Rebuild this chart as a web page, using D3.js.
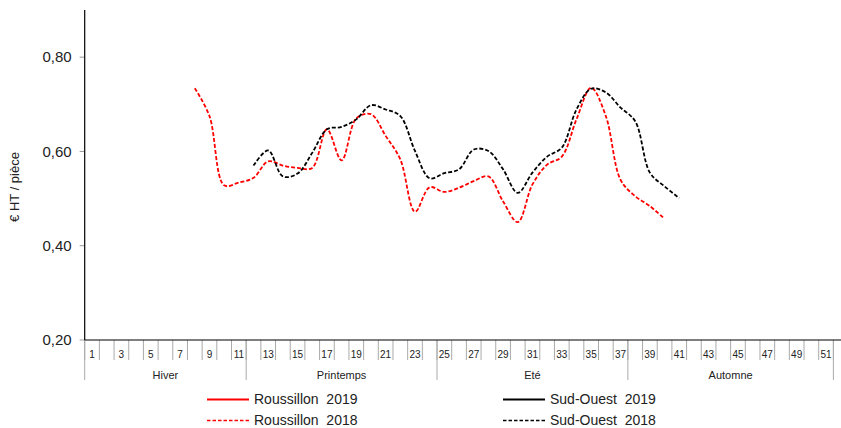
<!DOCTYPE html>
<html>
<head>
<meta charset="utf-8">
<script src="https://cdn.jsdelivr.net/npm/d3@7"></script>
<style>
  body { margin: 0; background: #fff; }
  svg { display: block; font-family: "Liberation Sans", Arial, sans-serif; }
</style>
</head>
<body>
<div id="chart"></div>
<script>
// weeks 1..52 on the category axis
var weeks = d3.range(1, 53);
var seasons = ["Hiver", "Printemps", "Eté", "Automne"];
var seasonStart = [1, 12, 25, 38];
var seasonEnd = [11, 24, 37, 51];
var yTicks = [0.20, 0.40, 0.60, 0.80];

// Roussillon 2018 (weeks 8..40)
var roussillon2018Weeks = d3.range(8, 41);
var roussillon2018 = [0.734, 0.675, 0.528, 0.534, 0.544, 0.579, 0.570, 0.565, 0.565, 0.647,
  0.581, 0.670, 0.679, 0.633, 0.583, 0.472, 0.524, 0.514, 0.523, 0.537, 0.547, 0.494, 0.450,
  0.530, 0.572, 0.589, 0.668, 0.735, 0.675, 0.540, 0.505, 0.484, 0.457];

// Sud-Ouest 2018 (weeks 12..41)
var sudOuest2018Weeks = d3.range(12, 42);
var sudOuest2018 = [0.570, 0.602, 0.547, 0.553, 0.597, 0.647, 0.652, 0.668, 0.698, 0.689,
  0.675, 0.601, 0.543, 0.554, 0.562, 0.604, 0.601, 0.562, 0.512, 0.555, 0.589, 0.608, 0.689,
  0.733, 0.725, 0.693, 0.664, 0.555, 0.526, 0.501];

// 2019 series have no values on this chart
var roussillon2019 = [];
var sudOuest2019 = [];

var width = 841, height = 428;
var plotLeft = 84.7, step = 14.68, plotTop = 10, plotBottom = 340;

var svg = d3.select("#chart").append("svg")
    .attr("width", width)
    .attr("height", height);

var x = d3.scaleBand().domain(weeks).range([plotLeft, plotLeft + weeks.length * step]).padding(0);
var xc = function(w) { return x(w) + x.bandwidth() / 2; };
var y = d3.scaleLinear().domain([0.2, 0.9]).range([plotBottom, plotTop]);

var fmt = function(v) { return d3.format(".2f")(v).replace(".", ","); };

// y axis
var yAxis = svg.append("g");
yAxis.selectAll("line.tick")
    .data(yTicks).enter().append("line")
    .attr("x1", plotLeft - 5).attr("x2", plotLeft)
    .attr("y1", d => y(d)).attr("y2", d => y(d))
    .attr("stroke", "#999").attr("stroke-width", 1);
yAxis.selectAll("text")
    .data(yTicks).enter().append("text")
    .attr("x", plotLeft - 13)
    .attr("y", d => y(d))
    .attr("dy", "0.35em")
    .attr("text-anchor", "end")
    .attr("font-size", 15)
    .attr("fill", "#222")
    .text(fmt);
svg.append("line")
    .attr("x1", plotLeft).attr("x2", plotLeft)
    .attr("y1", plotTop).attr("y2", plotBottom)
    .attr("stroke", "#000").attr("stroke-width", 1.2);

// y title
svg.append("text")
    .attr("transform", "translate(19,187) rotate(-90)")
    .attr("text-anchor", "middle")
    .attr("font-size", 13)
    .attr("fill", "#222")
    .text("€ HT / pièce");

// x axis: week boxes
var xg = svg.append("g");
xg.selectAll("line.div")
    .data(d3.range(0, weeks.length + 1)).enter().append("line")
    .attr("x1", k => plotLeft + k * step).attr("x2", k => plotLeft + k * step)
    .attr("y1", plotBottom).attr("y2", plotBottom + 20)
    .attr("stroke", "#aaa").attr("stroke-width", 1);
xg.selectAll("text.week")
    .data(weeks.filter(w => w % 2 == 1)).enter().append("text")
    .attr("x", xc)
    .attr("y", plotBottom + 18)
    .attr("text-anchor", "middle")
    .attr("font-size", 10)
    .attr("fill", "#222")
    .text(d => d);

// season groups
var sIdx = d3.range(seasons.length);
var edge = function(w) { return plotLeft + (w - 1) * step; };
xg.selectAll("line.season")
    .data([seasonStart[0]].concat(seasonEnd.map(e => e + 1))).enter().append("line")
    .attr("x1", edge).attr("x2", edge)
    .attr("y1", plotBottom).attr("y2", plotBottom + 40)
    .attr("stroke", "#aaa").attr("stroke-width", 1);
xg.selectAll("text.season")
    .data(sIdx).enter().append("text")
    .attr("x", i => (x(seasonStart[i]) + x(seasonEnd[i]) + x.bandwidth()) / 2)
    .attr("y", plotBottom + 39)
    .attr("text-anchor", "middle")
    .attr("font-size", 11)
    .attr("fill", "#222")
    .text(i => seasons[i]);

svg.append("line")
    .attr("x1", plotLeft).attr("x2", width)
    .attr("y1", plotBottom).attr("y2", plotBottom)
    .attr("stroke", "#000").attr("stroke-width", 1.2);

// lines
var line = d3.line()
    .x(d => xc(d[0]))
    .y(d => y(d[1]))
    .curve(d3.curveCatmullRom.alpha(0.5));

var series = [
  {name: "Roussillon  2019", w: [], v: roussillon2019, color: "#ff0000", dash: null},
  {name: "Roussillon  2018", w: roussillon2018Weeks, v: roussillon2018, color: "#ff0000", dash: "4,2"},
  {name: "Sud-Ouest  2019", w: [], v: sudOuest2019, color: "#000", dash: null},
  {name: "Sud-Ouest  2018", w: sudOuest2018Weeks, v: sudOuest2018, color: "#000", dash: "4,2"}
];

series.forEach(function(s) {
  if (!s.v.length) return;
  svg.append("path")
      .datum(s.w.map((w, i) => [w, s.v[i]]))
      .attr("fill", "none")
      .attr("stroke", s.color)
      .attr("stroke-width", 1.8)
      .attr("stroke-dasharray", s.dash)
      .attr("d", line);
});

// legend
var legPos = [[207, 399], [207, 420], [503, 399], [503, 420]];
series.forEach(function(s, i) {
  var p = legPos[i];
  svg.append("line")
      .attr("x1", p[0]).attr("x2", p[0] + 42)
      .attr("y1", p[1] + 0.5).attr("y2", p[1] + 0.5)
      .attr("stroke", s.color)
      .attr("stroke-width", s.dash ? 1.6 : 2)
      .attr("stroke-dasharray", s.dash ? "3.5,2" : null);
  svg.append("text")
      .attr("x", p[0] + 47)
      .attr("y", p[1])
      .attr("dy", "0.35em")
      .attr("font-size", 14)
      .attr("fill", "#222")
      .style("white-space", "pre")
      .text(s.name);
});
</script>
</body>
</html>
